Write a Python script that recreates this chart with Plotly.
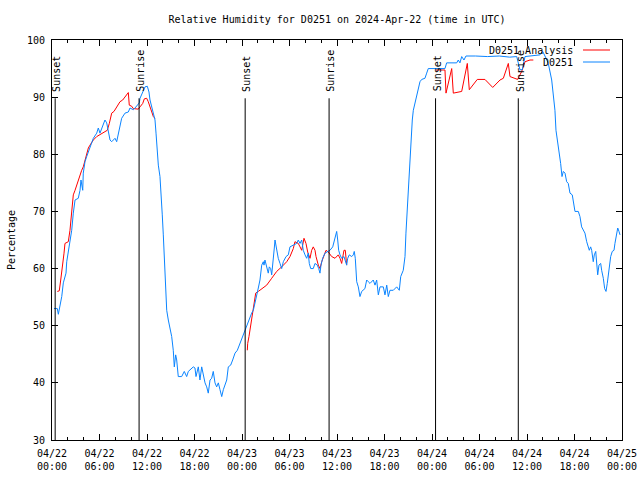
import pandas as pd
import plotly.graph_objects as go

# ---------------- data ----------------
base_time = pd.Timestamp("2024-04-22 00:00")
title_text = "Relative Humidity for D0251 on 2024-Apr-22 (time in UTC)"
obs_name = "D0251"
ana_name = "D0251 Analysis"

# observations: hours since 2024-04-22 00:00 UTC, relative humidity (%)
obs_hours = [0.25, 0.67, 0.8, 1.23, 1.43, 1.77, 1.86, 2.27, 2.49, 2.69, 2.91, 3.32, 3.54, 3.66, 3.88, 3.95,
             4.17, 4.38, 4.59, 4.8, 5.01, 5.22, 5.65, 5.85, 6.06, 6.28, 6.48, 6.69, 6.91, 7.11, 7.33, 7.54,
             7.96, 8.17, 8.37, 8.59, 8.8, 9.22, 9.64, 9.85, 10.27, 10.48, 10.77, 11.03, 11.12, 11.33, 11.53,
             11.75, 12.04, 12.25, 12.38, 12.59, 12.8, 13.01, 13.14, 13.3, 13.43, 13.64, 13.77, 13.93, 14.06,
             14.18, 14.27, 14.4, 14.49, 14.69, 14.9, 15.12, 15.32, 15.45, 15.62, 15.75, 15.95, 16.38, 16.71,
             17.01, 17.22, 17.65, 17.85, 18.06, 18.19, 18.48, 18.69, 18.91, 19.11, 19.33, 19.54, 19.74, 19.96,
             20.17, 20.37, 20.59, 20.8, 21.01, 21.22, 21.44, 21.64, 21.85, 22.07, 22.27, 22.57, 22.82, 23.12,
             23.41, 23.75, 24.09, 24.38, 24.67, 25.01, 25.22, 25.43, 25.64, 25.93, 26.06, 26.27, 26.36, 26.49,
             26.69, 26.78, 26.9, 27.12, 27.32, 27.45, 27.62, 27.75, 27.95, 28.08, 28.17, 28.38, 28.58, 28.8,
             29.01, 29.22, 29.56, 29.85, 30.06, 30.48, 30.91, 31.11, 31.33, 31.54, 31.74, 31.96, 32.17, 32.37,
             32.5, 32.68, 33.0, 33.22, 33.51, 33.69, 33.85, 33.98, 34.19, 34.48, 34.77, 35.11, 35.46, 35.66,
             35.96, 36.09, 36.21, 36.38, 36.59, 36.88, 37.05, 37.22, 37.35, 37.55, 37.86, 38.06, 38.18, 38.31,
             38.49, 38.69, 38.9, 39.12, 39.53, 39.75, 39.95, 40.17, 40.58, 40.8, 41.01, 41.22, 41.43, 41.85,
             42.06, 42.28, 42.48, 42.69, 43.11, 43.54, 43.87, 44.05, 44.37, 44.59, 44.71, 44.88, 45.09, 45.22,
             45.35, 45.51, 45.64, 45.85, 46.07, 46.27, 46.48, 46.7, 47.11, 47.33, 47.53, 49.64, 49.85, 51.12,
             51.32, 51.53, 51.75, 52.04, 52.29, 53.5, 55.0, 56.5, 57.8, 58.7, 58.92, 59.11, 59.4, 59.53, 59.75,
             61.64, 61.98, 62.27, 62.69, 63.12, 63.32, 63.53, 63.66, 63.83, 64.08, 64.25, 64.42, 64.59, 64.8,
             65.01, 65.21, 65.43, 65.72, 65.93, 66.06, 66.48, 66.69, 66.9, 67.11, 67.32, 67.54, 67.74, 67.87,
             68.04, 68.17, 68.37, 68.5, 68.68, 68.8, 68.93, 69.09, 69.31, 69.43, 69.64, 69.81, 69.98, 70.14,
             70.36, 70.57, 70.77, 70.99, 71.11, 71.33, 71.46, 71.62, 71.75]
obs_values = [53.0, 53.0, 52.0, 55.1, 57.5, 59.2, 61.2, 64.4, 66.7, 69.7, 72.0, 72.3, 73.7, 75.5, 73.7, 76.7,
              78.7, 79.6, 80.4, 81.3, 82.2, 82.8, 83.7, 84.6, 83.7, 84.6, 85.5, 86.0, 85.5, 84.2, 82.5, 82.2,
              82.8, 82.2, 83.4, 84.8, 86.3, 87.2, 87.4, 88.1, 87.8, 88.1, 88.6, 89.0, 89.8, 90.4, 91.2,
              91.8, 91.9, 90.9, 89.5, 88.3, 87.2, 86.0, 83.7, 80.7, 78.1, 76.1, 72.0, 69.4, 65.9,
              62.7, 59.5, 56.2, 52.7, 51.0, 49.8, 48.1, 45.7, 42.8, 44.9, 44.0, 41.1, 41.1, 42.0,
              41.1, 42.0, 42.5, 42.8, 42.6, 41.1, 42.8, 40.5, 42.8, 41.1, 40.0, 39.3, 38.2, 40.5,
              40.8, 42.0, 40.0, 39.3, 40.0, 38.8, 37.6, 38.8, 39.6, 40.5, 42.8, 43.1, 44.0, 45.2,
              45.7, 46.9, 48.1, 49.2, 50.4, 51.6, 52.2, 52.7, 54.2, 55.7, 56.6, 58.0, 59.2, 60.6,
              61.2, 60.6, 61.5, 60.0, 59.2, 60.3, 60.0, 58.9, 61.2, 63.6, 65.0, 63.2, 61.8, 60.9,
              60.0, 61.2, 62.1, 62.4, 63.8, 64.1, 64.4, 65.0, 64.4, 65.0, 63.2, 62.4, 61.8, 62.7,
              60.9, 60.0, 60.0, 60.9, 60.6, 60.0, 59.2, 60.6, 61.8, 62.7, 63.0, 63.2, 63.8, 65.0,
              66.5, 65.0, 63.2, 62.4, 61.8, 62.1, 61.2, 60.6, 61.8, 62.4, 62.1, 62.4, 63.0, 61.8,
              57.7, 56.8, 55.1, 56.0, 56.5, 58.0, 57.7, 57.4, 58.0, 57.1, 58.0, 55.4, 56.8, 56.8,
              55.4, 57.1, 55.1, 56.2, 56.2, 56.8, 56.2, 58.6, 59.7, 62.1, 66.2, 70.8, 76.7, 80.7,
              84.2, 86.0, 87.7, 88.9, 90.1, 91.2, 92.7, 93.1, 93.3, 94.2, 95.0, 95.0, 96.0, 96.0,
              96.5, 96.0, 97.1, 96.5, 97.2, 97.2, 97.1, 97.2, 97.0, 97.1, 95.9, 94.8, 94.8, 95.9, 97.1,
              97.4, 98.0, 97.2, 95.9, 93.0, 90.1, 87.7, 84.2, 82.5, 80.7, 78.4, 76.1, 77.0, 76.7,
              75.2, 74.9, 73.2, 72.9, 70.8, 70.0, 70.0, 69.1, 67.3, 66.7, 66.2, 64.7, 63.8, 63.2,
              63.8, 63.2, 61.2, 62.4, 63.0, 60.3, 58.9, 60.6, 60.9, 59.7, 58.3, 56.5, 56.0, 57.4,
              59.7, 62.1, 63.0, 63.2, 64.4, 65.9, 67.1, 66.5, 65.9]

# analysis: three separate runs
ana1_hours = [0.67, 0.92, 1.1, 1.35, 1.52, 1.64, 2.06, 2.27, 2.49, 2.69, 2.91, 3.12, 3.32, 3.54, 3.75, 3.95,
              4.17, 4.38, 4.59, 4.8, 5.22, 5.65, 6.06, 6.69, 6.98, 7.24, 7.54, 7.83, 8.17, 8.59, 8.93, 9.22,
              9.64, 9.76, 10.07, 10.27, 10.61, 10.9, 11.12, 11.46, 11.66, 11.96, 12.16, 12.38, 12.59, 12.8, 13.01]
ana1_values = [56.0, 56.1, 58.0, 60.3, 62.7, 64.4, 64.7, 66.7, 69.7, 72.9, 73.7, 74.6, 75.5, 76.7, 77.2, 77.8,
               79.0, 80.2, 81.1, 81.6, 82.5, 83.1, 83.4, 84.0, 84.2, 85.4, 87.2, 87.5, 88.3, 89.2, 89.5, 90.1,
               90.8, 88.6, 88.4, 88.0, 87.9, 87.9, 88.3, 88.9, 89.7, 89.8, 89.2, 88.3, 87.5, 86.6, 86.3]
ana2_hours = [24.67, 24.72, 24.88, 25.01, 25.14, 25.3, 25.51, 25.73, 26.06, 26.49, 27.12, 27.75, 28.38, 29.01,
              29.65, 30.06, 30.48, 30.69, 31.11, 31.33, 31.54, 31.83, 32.08, 32.3, 32.59, 32.8, 33.0, 33.22,
              33.35, 33.64, 33.85, 34.07, 34.27, 34.61, 34.9, 35.33, 35.75, 36.16, 36.38, 36.59, 36.88, 37.05, 37.22]
ana2_values = [45.7, 46.9, 48.1, 49.2, 50.4, 52.2, 53.6, 55.7, 56.0, 56.5, 57.1, 58.3, 59.5, 60.3,
               61.2, 62.1, 63.5, 64.7, 64.4, 63.8, 63.2, 65.3, 64.4, 62.9, 61.8, 63.2, 63.8, 63.2,
               62.1, 60.6, 60.0, 61.2, 62.1, 63.2, 62.9, 62.1, 61.8, 62.4, 61.8, 60.9, 63.2, 63.2, 60.6]
ana3_hours = [48.5, 49.64, 49.77, 50.49, 50.69, 51.32, 51.75, 52.46, 52.71, 53.72, 54.69, 55.67, 56.59, 57.01,
              57.64, 57.85, 58.82, 59.33, 59.75, 60.38, 60.8]
ana3_values = [94.75, 94.75, 90.7, 95.0, 90.7, 90.8, 91.0, 95.9, 91.3, 93.1, 93.1, 91.7, 93.0, 93.3,
               95.9, 93.6, 93.1, 94.5, 96.2, 96.5, 96.5]

# sun events (hours since start) and labels
sun_hours = [0.4, 11.0, 24.4, 35.0, 48.45, 58.9]
sun_labels = ["Sunset", "Sunrise", "Sunset", "Sunrise", "Sunset", "Sunrise"]
sun_line_top = 89.8
sun_label_base = 90.6

y_ticks = [30, 40, 50, 60, 70, 80, 90, 100]

# ---------------- build ----------------
def to_time(hours):
    return [base_time + pd.Timedelta(hours=h) if h is not None else None for h in hours]

ana_hours = ana1_hours + [None] + ana2_hours + [None] + ana3_hours
ana_values = ana1_values + [None] + ana2_values + [None] + ana3_values

FONT = "DejaVu Sans Mono"
RED = "#ff0000"
BLUE = "#0a84ff"

fig = go.Figure()
fig.add_trace(go.Scatter(x=to_time(ana_hours), y=ana_values, mode="lines", name=ana_name,
                         line=dict(color=RED, width=1), connectgaps=False, showlegend=False))
fig.add_trace(go.Scatter(x=to_time(obs_hours), y=obs_values, mode="lines", name=obs_name,
                         line=dict(color=BLUE, width=1), showlegend=False))

sun_times = to_time(sun_hours)
for t, lab in zip(sun_times, sun_labels):
    fig.add_shape(type="line", xref="x", yref="y", x0=t, x1=t, y0=y_ticks[0], y1=sun_line_top,
                  line=dict(color="black", width=1))
    fig.add_annotation(x=t, y=sun_label_base, xref="x", yref="y", text=lab, textangle=-90,
                       showarrow=False, xanchor="center", yanchor="bottom", xshift=2,
                       font=dict(family=FONT, size=10, color="black"))

# key (gnuplot style: text then sample line)
for i, (nm, col) in enumerate([(ana_name, RED), (obs_name, BLUE)]):
    ypos = 1 - (10 + 12 * i) / 400
    fig.add_annotation(x=(575 - 52) / 570, y=ypos, xref="paper", yref="paper", text=nm,
                       showarrow=False, xanchor="right", yanchor="middle",
                       font=dict(family=FONT, size=10, color="black"))
    fig.add_shape(type="line", xref="paper", yref="paper", x0=(583 - 52) / 570, x1=(610 - 52) / 570,
                  y0=ypos, y1=ypos, line=dict(color=col, width=1))

fig.update_layout(
    width=640, height=480,
    margin=dict(l=52, r=18, t=40, b=40, autoexpand=False),
    paper_bgcolor="white", plot_bgcolor="white",
    font=dict(family=FONT, size=10, color="black"),
    title=dict(text=title_text, x=0.5, xref="paper", xanchor="center", y=1 - 19 / 480, yanchor="middle",
               yref="container", font=dict(family=FONT, size=10, color="black")),
    showlegend=False,
)
fig.update_xaxes(
    type="date", range=[base_time, base_time + pd.Timedelta(hours=72)],
    tick0=base_time, dtick=6 * 3600 * 1000, tickformat="%m/%d<br>%H:%M",
    ticks="inside", ticklen=6, tickcolor="black", showline=True, linecolor="black", linewidth=1,
    mirror="allticks", showgrid=False, zeroline=False, automargin=False, ticklabelstandoff=4,
    minor=dict(dtick=2 * 3600 * 1000, tick0=base_time, ticks="inside", ticklen=3, tickcolor="black", showgrid=False),
    tickfont=dict(family=FONT, size=10),
)
fig.update_yaxes(
    range=[30, 100], tickvals=y_ticks, ticks="inside", ticklen=6, tickcolor="black",
    showline=True, linecolor="black", linewidth=1, mirror="allticks", showgrid=False, zeroline=False,
    automargin=False, ticklabelstandoff=4,
    title=dict(text="Percentage", font=dict(family=FONT, size=10), standoff=9),
    tickfont=dict(family=FONT, size=10),
)

fig.write_html("out.html", config={"displayModeBar": False},
               post_script="document.body.style.margin='0';document.body.style.overflow='hidden';")
